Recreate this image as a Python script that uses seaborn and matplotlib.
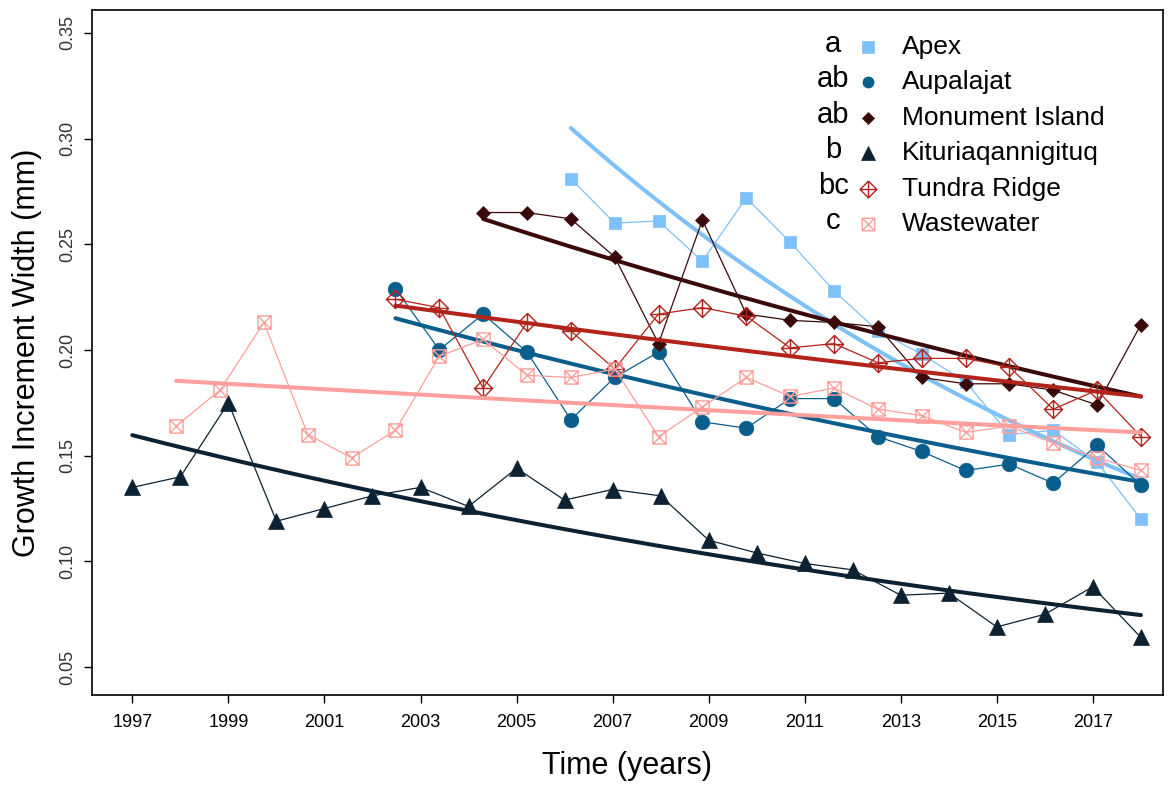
import numpy as np
import pandas as pd
import matplotlib
matplotlib.use("Agg")
import matplotlib.pyplot as plt
import seaborn as sns
from matplotlib.path import Path

sns.set_theme(style="white")
plt.rcParams['font.family'] = ['Liberation Sans', 'DejaVu Sans']
plt.rcParams['text.color'] = 'black'
plt.rcParams['axes.labelcolor'] = 'black'

# ---------------- data ----------------
sites = ["Apex", "Aupalajat", "Monument Island", "Kituriaqannigituq", "Tundra Ridge", "Wastewater"]
letters = ["a", "ab", "ab", "b", "bc", "c"]

# 24-position time grid used for the chronologies (1997 .. 2018)
grid_years = np.linspace(1997, 2018, 24)
kit_years = np.arange(1997, 2019)

apex = [0.281, 0.260, 0.261, 0.242, 0.272, 0.251, 0.228, 0.209, 0.198, 0.185, 0.160, 0.162, 0.147, 0.120]
aupalajat = [0.229, 0.200, 0.217, 0.199, 0.167, 0.187, 0.199, 0.166, 0.163, 0.177, 0.177, 0.159,
             0.152, 0.143, 0.146, 0.137, 0.155, 0.136]
monument = [0.265, 0.265, 0.262, 0.244, 0.203, 0.2615, 0.217, 0.214, 0.213, 0.211, 0.187, 0.184,
            0.184, 0.181, 0.174, 0.212]
kituriaq = [0.135, 0.140, 0.175, 0.119, 0.125, 0.131, 0.135, 0.126, 0.144, 0.129, 0.134, 0.131,
            0.110, 0.104, 0.099, 0.096, 0.084, 0.085, 0.069, 0.075, 0.088, 0.064]
tundra = [0.224, 0.220, 0.182, 0.213, 0.209, 0.191, 0.217, 0.220, 0.216, 0.201, 0.203, 0.194,
          0.196, 0.196, 0.192, 0.172, 0.181, 0.159]
wastewater = [0.164, 0.181, 0.213, 0.160, 0.149, 0.162, 0.197, 0.205, 0.188, 0.187, 0.191, 0.159,
              0.173, 0.187, 0.178, 0.182, 0.172, 0.169, 0.161, 0.164, 0.156, 0.149, 0.143]

# fitted exponential trend: value at first and last year of each series
trend_start = [0.305, 0.215, 0.262, 0.1597, 0.221, 0.1854]
trend_end = [0.139, 0.1376, 0.178, 0.0746, 0.178, 0.161]

series_values = [apex, aupalajat, monument, kituriaq, tundra, wastewater]
series_years = [grid_years[10:], grid_years[6:], grid_years[8:], kit_years, grid_years[6:], grid_years[1:]]

colors = ["#7EC0F8", "#0A5E8C", "#3A0909", "#0C2233", "#B2231C", "#FF9F9B"]

# ---------------- markers ----------------
diamond_plus = Path([(0, 1), (1, 0), (0, -1), (-1, 0), (0, 1), (0, 1), (0, -1), (-1, 0), (1, 0)],
                    [1, 2, 2, 2, 2, 1, 2, 1, 2])
square_x = Path([(-1, -1), (1, -1), (1, 1), (-1, 1), (-1, -1), (-1, -1), (1, 1), (-1, 1), (1, -1)],
                [1, 2, 2, 2, 2, 1, 2, 1, 2])

mk = [dict(marker="s", markersize=9, markerfacecolor=colors[0], markeredgecolor=colors[0], markeredgewidth=0.5),
      dict(marker="o", markersize=10.5, markerfacecolor=colors[1], markeredgecolor=colors[1], markeredgewidth=0.5),
      dict(marker="D", markersize=6.8, markerfacecolor=colors[2], markeredgecolor=colors[2], markeredgewidth=0.5),
      dict(marker="^", markersize=11.5, markerfacecolor=colors[3], markeredgecolor=colors[3], markeredgewidth=0.5),
      dict(marker=diamond_plus, markersize=13, markerfacecolor="none", markeredgecolor=colors[4], markeredgewidth=1.0),
      dict(marker=square_x, markersize=9.5, markerfacecolor="none", markeredgecolor=colors[5], markeredgewidth=1.0)]

# ---------------- figure ----------------
fig = plt.figure(figsize=(11.75, 7.91), dpi=100)
ax = fig.add_axes([92 / 1175, 1 - 695 / 791, (1163 - 92) / 1175, (695 - 10) / 791])

for i, name in enumerate(sites):
    df = pd.DataFrame({"year": series_years[i], "width": series_values[i]})
    sns.lineplot(data=df, x="year", y="width", color=colors[i], linewidth=0.9, ax=ax,
                 estimator=None, sort=False, zorder=2 + i, **mk[i])
    xs = np.linspace(series_years[i][0], series_years[i][-1], 60)
    tr = pd.DataFrame({"year": xs, "width": np.geomspace(trend_start[i], trend_end[i], 60)})
    sns.lineplot(data=tr, x="year", y="width", color=colors[i], linewidth=2.9, ax=ax,
                 estimator=None, sort=False, zorder=2.5 + i)

ax.set_xlim(1996.16, 2018.46)
ax.set_ylim(0.0368, 0.3608)
ax.set_xticks(np.arange(1997, 2018, 2))
ax.set_yticks([0.05, 0.10, 0.15, 0.20, 0.25, 0.30, 0.35])
ax.set_yticklabels(["0.05", "0.10", "0.15", "0.20", "0.25", "0.30", "0.35"], rotation=90, va="center")
ax.tick_params(axis="both", direction="out", length=6, width=1, color="black", bottom=True, left=True)
ax.tick_params(axis="x", labelsize=13, labelcolor="black", pad=8)
ax.tick_params(axis="y", labelsize=13, labelcolor="#333333", pad=5)
for s in ax.spines.values():
    s.set_color("black")
    s.set_linewidth(1.2)

ax.set_xlabel("Time (years)", fontsize=22, labelpad=14)
ax.set_ylabel("Growth Increment Width (mm)", fontsize=22, labelpad=13)

# ---------------- custom legend ----------------
leg_rows = [0.9459, 0.8948, 0.8423, 0.7912, 0.7386, 0.6875]
leg_mk = [8, 8, 6, 10, 12, 9]
for i, name in enumerate(sites):
    yy = leg_rows[i]
    ax.text(0.692, yy + 0.005, letters[i], transform=ax.transAxes, ha="center", va="center", fontsize=21)
    m = dict(mk[i])
    m["markersize"] = leg_mk[i]
    ax.plot([0.7246], [yy], transform=ax.transAxes, linestyle="none", **m)
    ax.text(0.7563, yy, name, transform=ax.transAxes, ha="left", va="center", fontsize=19)

fig.savefig("out.png", dpi=100)
